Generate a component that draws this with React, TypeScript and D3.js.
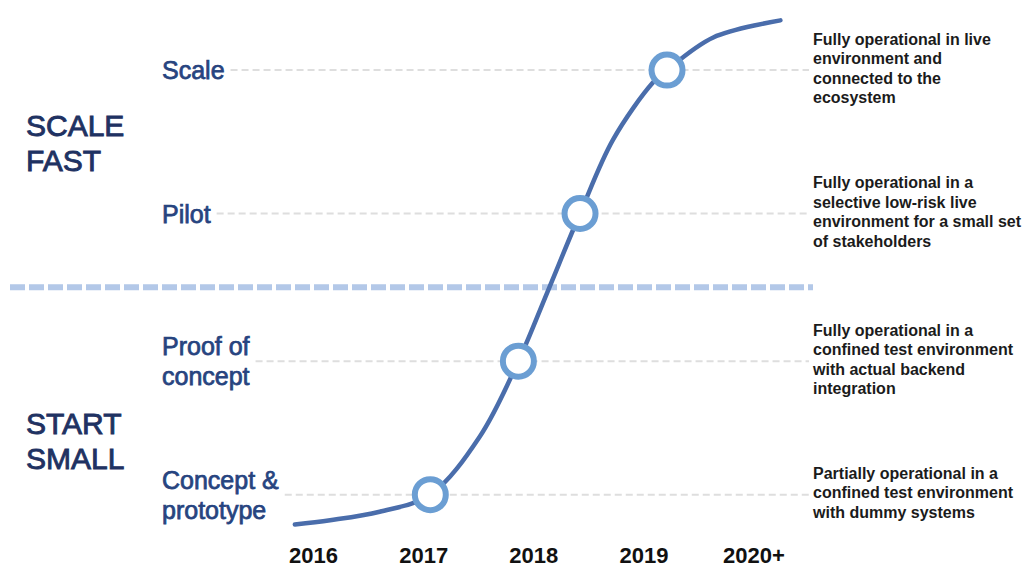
import * as d3 from 'd3'
import { useEffect, useRef } from 'react'

const years = ['2016', '2017', '2018', '2019', '2020+']
const stageLabels = [['Concept &', 'prototype'], ['Proof of', 'concept'], ['Pilot'], ['Scale']]
const stageLevels = [1.02, 1.96, 3.0, 4.01]
const stageYears = [2017.06, 2017.86, 2018.42, 2019.21]
const stageNotes = [
    ['Partially operational in a', 'confined test environment', 'with dummy systems'],
    ['Fully operational in a', 'confined test environment', 'with actual backend', 'integration'],
    ['Fully operational in a', 'selective low-risk live', 'environment for a small set', 'of stakeholders'],
    ['Fully operational in live', 'environment and', 'connected to the', 'ecosystem'],
]
const phaseLabels = [['START', 'SMALL'], ['SCALE', 'FAST']]
const phaseLevels = [1.4, 3.5]
const splitLevel = 2.48
const curveYears = [2015.83, 2016.15, 2016.6, 2017.06, 2017.51, 2017.86, 2018.12, 2018.42, 2018.72, 2019.08, 2019.21, 2019.63, 2020.24]
const curveLevels = [0.81, 0.84, 0.9, 1.02, 1.43, 1.96, 2.44, 3.0, 3.52, 3.92, 4.01, 4.24, 4.36]

const FONT = '"Liberation Sans", Arial, Helvetica, sans-serif'

const App = () => {
    const width = 1029
    const height = 568
    const svgRef = useRef<SVGSVGElement | null>(null)

    useEffect(() => {
        const svg = d3.select(svgRef.current)
        svg.selectAll('*').remove()

        const x = d3.scaleLinear().domain([2016, 2020]).range([313.6, 754])
        const y = d3.scaleLinear().domain([1, 4]).range([497.5, 71.5])
        const labelX = 162
        const noteX = 813
        const guideEnd = noteX - 4

        // stage labels + guides
        const stages = svg.append('g').attr('class', 'stages')
        stageLabels.forEach((lines, i) => {
            const cy = y(stageLevels[i])
            const lh = 30
            const cap = 18
            const first = cy + cap / 2 - ((lines.length - 1) * lh) / 2
            const t = stages.append('text')
                .attr('font-family', FONT)
                .attr('font-size', 25)
                .attr('fill', '#27447f')
                .attr('stroke', '#27447f')
                .attr('stroke-width', 0.75)
            lines.forEach((l, j) => {
                t.append('tspan').attr('x', labelX).attr('y', first + j * lh).text(l)
            })
            let w = 0
            t.selectAll<SVGTSpanElement, unknown>('tspan').each(function () {
                w = Math.max(w, this.getComputedTextLength())
            })
            stages.insert('line', ':first-child')
                .attr('x1', labelX + w + 6)
                .attr('x2', guideEnd)
                .attr('y1', cy)
                .attr('y2', cy)
                .attr('stroke', '#dedede')
                .attr('stroke-width', 2)
                .attr('stroke-dasharray', '7 4')
        })

        // phase labels
        phaseLabels.forEach((lines, i) => {
            const cy = y(phaseLevels[i])
            const t = svg.append('text')
                .attr('font-family', FONT)
                .attr('font-size', 30)
                .attr('fill', '#1f3262')
                .attr('stroke', '#1f3262')
                .attr('stroke-width', 0.9)
            lines.forEach((l, j) => {
                t.append('tspan').attr('x', 26).attr('y', cy - 6.75 + j * 35).text(l)
            })
        })

        // separator
        svg.append('line')
            .attr('x1', 10)
            .attr('x2', noteX)
            .attr('y1', y(splitLevel))
            .attr('y2', y(splitLevel))
            .attr('stroke', '#b3c8e8')
            .attr('stroke-width', 6)
            .attr('stroke-dasharray', '15 4')

        // notes
        stageNotes.forEach((lines, i) => {
            const cy = y(stageLevels[i])
            const lh = 19.5
            const first = cy + 5.75 - ((lines.length - 1) * lh) / 2 - 2
            const t = svg.append('text')
                .attr('font-family', FONT)
                .attr('font-size', 16)
                .attr('font-weight', 'bold')
                .attr('fill', '#1b1b1b')
            lines.forEach((l, j) => {
                t.append('tspan').attr('x', noteX).attr('y', first + j * lh).text(l)
            })
        })

        // curve
        const pts: [number, number][] = curveYears.map((yr, i) => [yr, curveLevels[i]])
        const line = d3.line<[number, number]>()
            .x(d => x(d[0]))
            .y(d => y(d[1]))
            .curve(d3.curveCatmullRom.alpha(0.5))
        svg.append('path')
            .attr('d', line(pts))
            .attr('fill', 'none')
            .attr('stroke', '#4a6dab')
            .attr('stroke-width', 4.5)
            .attr('stroke-linecap', 'round')

        svg.append('g')
            .selectAll('circle')
            .data(stageYears)
            .enter()
            .append('circle')
            .attr('cx', d => x(d))
            .attr('cy', (_, i) => y(stageLevels[i]))
            .attr('r', 15.5)
            .attr('fill', '#fff')
            .attr('stroke', '#6b9ed3')
            .attr('stroke-width', 6)

        // year axis
        svg.append('g')
            .selectAll('text')
            .data(years)
            .enter()
            .append('text')
            .attr('x', (_, i) => x(2016 + i))
            .attr('y', 563)
            .attr('text-anchor', 'middle')
            .attr('font-family', FONT)
            .attr('font-size', 22)
            .attr('font-weight', 'bold')
            .attr('fill', '#111')
            .text(d => d)
    }, [])

    return (
        <svg
            ref={svgRef}
            width={width}
            height={height}
            style={{ position: 'absolute', left: 0, top: 0, background: '#fff' }}
        />
    )
}

export default App
